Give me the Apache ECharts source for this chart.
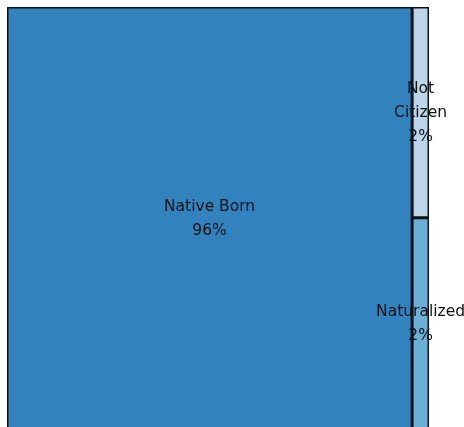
<!DOCTYPE html>
<html>
<head>
<meta charset="utf-8">
<script src="https://cdn.jsdelivr.net/npm/echarts@6/dist/echarts.min.js"></script>
<style>html,body{margin:0;padding:0;background:#fff;}#c{width:464px;height:427px;}</style>
</head>
<body>
<div id="c"></div>
<script>
const categories = ['Native Born', 'Not Citizen', 'Naturalized'];
const labelText = ['Native Born', 'Not\nCitizen', 'Naturalized'];
const values = [96, 2, 2];
const colors = ['#3182bd', '#bdd5e8', '#6baed6'];

const chart = echarts.init(document.getElementById('c'), null, {renderer: 'canvas'});
chart.setOption({
  animation: false,
  series: [{
    type: 'treemap',
    left: 7, top: 7, width: 422, height: 421.5,
    roam: false,
    nodeClick: false,
    breadcrumb: {show: false},
    sort: false,
    itemStyle: {borderColor: '#111', borderWidth: 1.5, gapWidth: 0},
    levels: [{itemStyle: {borderWidth: 0, gapWidth: 0}}],
    label: {
      show: true,
      position: 'inside',
      align: 'center',
      verticalAlign: 'middle',
      overflow: 'none',
      color: '#111',
      fontFamily: 'DejaVu Sans',
      fontSize: 15.5,
      lineHeight: 24,
      offset: [0, 1]
    },
    data: categories.map((n, i) => ({
      name: n,
      value: values[i],
      itemStyle: {color: colors[i]},
      label: {formatter: labelText[i] + '\n' + values[i] + '%'}
    }))
  }]
});
</script>
</body>
</html>
